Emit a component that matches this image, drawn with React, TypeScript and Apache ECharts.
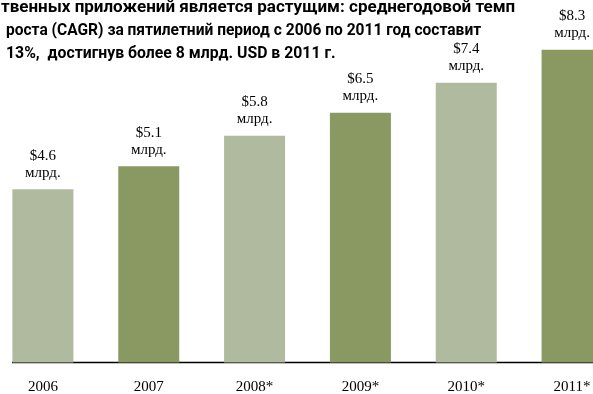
import React, { useEffect, useRef } from "react";
import * as echarts from "echarts";

const categories = ["2006", "2007", "2008*", "2009*", "2010*", "2011*"];
// bar heights (billion USD)
const values = [4.6, 5.21, 6.02, 6.63, 7.43, 8.3];
const valueLabels = ["$4.6", "$5.1", "$5.8", "$6.5", "$7.4", "$8.3"];
const unitLabel = "млрд.";
const titleLines = [
  "твенных приложений является растущим: среднегодовой темп",
  "роста (CAGR) за пятилетний период с 2006 по 2011 год составит",
  "13%,  достигнув более 8 млрд. USD в 2011 г.",
];
const colors = ["#afba9f", "#8a9962"];

const OFFSET = 10; // container starts 10px left of the page
const titleX = [1, 6, 6];
const titleY = [14, 38, 61];
const titleScale = [1.0, 0.915, 0.93];

export default function App() {
  const ref = useRef<HTMLDivElement>(null);
  useEffect(() => {
    if (!ref.current) return;
    const chart = echarts.init(ref.current, undefined, { renderer: "svg" });
    chart.setOption({
      animation: false,
      grid: { left: 0, right: 0, top: 23.5, bottom: 31.5 },
      xAxis: {
        type: "category",
        data: categories,
        axisLine: { show: false },
        axisTick: { show: false },
        axisLabel: {
          margin: 16,
          fontFamily: "Liberation Serif",
          fontSize: 15,
          color: "#000",
        },
      },
      yAxis: { type: "value", min: 0, max: 9, show: false, splitLine: { show: false } },
      series: [
        {
          type: "bar",
          barWidth: 61,
          data: values.map((v, i) => ({
            value: v,
            itemStyle: { color: colors[i % 2] },
          })),
          label: {
            show: true,
            position: "top",
            distance: 9,
            fontFamily: "Liberation Serif",
            fontSize: 15,
            lineHeight: 17,
            color: "#000",
            formatter: (p: any) => valueLabels[p.dataIndex] + "\n" + unitLabel,
          },
        },
      ],
      graphic: [
        {
          type: "line",
          shape: { x1: 12 + OFFSET, y1: 362.5, x2: 620, y2: 362.5 },
          style: { stroke: "#000", lineWidth: 1.5 },
        },
        ...titleLines.map((t, i) => ({
          type: "text",
          x: titleX[i] + OFFSET,
          y: titleY[i],
          scaleX: titleScale[i],
          style: {
            text: t,
            fontFamily: "Roboto",
            fontWeight: "bold",
            fontSize: 17,
            fill: "#000",
            verticalAlign: "bottom",
          },
        })),
      ],
    });
    return () => chart.dispose();
  }, []);
  return (
    <div
      ref={ref}
      style={{ position: "fixed", left: -OFFSET, top: 0, width: 635, height: 394 }}
    />
  );
}
